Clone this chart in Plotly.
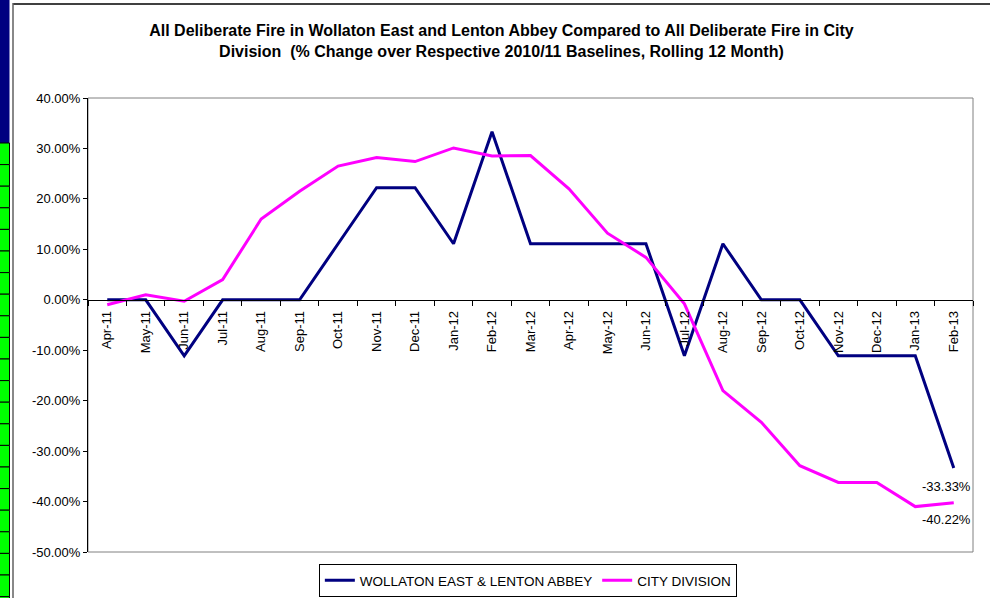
import plotly.graph_objects as go

months = ["Apr-11", "May-11", "Jun-11", "Jul-11", "Aug-11", "Sep-11", "Oct-11", "Nov-11",
          "Dec-11", "Jan-12", "Feb-12", "Mar-12", "Apr-12", "May-12", "Jun-12", "Jul-12",
          "Aug-12", "Sep-12", "Oct-12", "Nov-12", "Dec-12", "Jan-13", "Feb-13"]

wollaton = [0.0, 0.0, -11.11, 0.0, 0.0, 0.0, 11.11, 22.22, 22.22, 11.11, 33.33, 11.11,
            11.11, 11.11, 11.11, -11.11, 11.11, 0.0, 0.0, -11.11, -11.11, -11.11, -33.33]

city = [-1.0, 1.0, -0.3, 4.0, 16.0, 21.5, 26.5, 28.2, 27.4, 30.1, 28.5, 28.6,
        22.0, 13.2, 8.4, -0.8, -18.0, -24.3, -32.9, -36.2, -36.2, -41.0, -40.22]

ytickvals = [40, 30, 20, 10, 0, -10, -20, -30, -40, -50]
yticktext = ["40.00%", "30.00%", "20.00%", "10.00%", "0.00%", "-10.00%", "-20.00%",
             "-30.00%", "-40.00%", "-50.00%"]

FONT = "Liberation Sans, Arial, sans-serif"

fig = go.Figure()
fig.add_trace(go.Scatter(x=months, y=wollaton, mode="lines", name="WOLLATON EAST & LENTON ABBEY",
                         line=dict(color="#000080", width=3)))
fig.add_trace(go.Scatter(x=months, y=city, mode="lines", name="CITY DIVISION",
                         line=dict(color="#FF00FF", width=3)))

ymin, ymax = -50, 40
zero_pos = (0 - ymin) / (ymax - ymin)

shapes = []
shapes.append(dict(type="rect", xref="paper", yref="paper", x0=0, x1=1, y0=0, y1=1,
                   line=dict(color="#808080", width=1), layer="below"))
W, H = 885.0, 454.0
def px(xp):
    return (xp - 88) / W
def py(yp):
    return (552 - yp) / H
shapes.append(dict(type="line", xref="paper", yref="paper", x0=px(13), x1=px(1000), y0=py(4), y1=py(4),
                   line=dict(color="#404040", width=2)))
shapes.append(dict(type="line", xref="paper", yref="paper", x0=px(13), x1=px(13), y0=py(3), y1=py(605),
                   line=dict(color="#606060", width=1.5)))
shapes.append(dict(type="rect", xref="paper", yref="paper", x0=px(-1), x1=px(9.5), y0=py(-1), y1=py(143),
                   fillcolor="#000080", line=dict(width=0)))
ytop = 143.0
while ytop < 598:
    shapes.append(dict(type="rect", xref="paper", yref="paper", x0=px(-1), x1=px(9.5),
                       y0=py(ytop), y1=py(ytop + 21.6), fillcolor="#00FF00",
                       line=dict(color="black", width=1)))
    ytop += 21.6

annotations = [
    dict(x=months[-1], y=wollaton[-1], xref="x", yref="y", text="-33.33%", showarrow=False,
         yshift=-19, xshift=-7, font=dict(size=13, color="black", family=FONT)),
    dict(x=months[-1], y=city[-1], xref="x", yref="y", text="-40.22%", showarrow=False,
         yshift=-17, xshift=-7, font=dict(size=13, color="black", family=FONT)),
]

fig.update_layout(
    width=990, height=598,
    margin=dict(l=88, r=17, t=98, b=46, autoexpand=False),
    paper_bgcolor="white", plot_bgcolor="white",
    font=dict(family=FONT, size=13, color="black"),
    title=dict(text="<b>All Deliberate Fire in Wollaton East and Lenton Abbey Compared to All Deliberate Fire in City<br>Division  (% Change over Respective 2010/11 Baselines, Rolling 12 Month)</b>",
               x=0.5065, xanchor="center", y=0.94, yanchor="top",
               font=dict(size=16, family=FONT, color="black")),
    xaxis=dict(type="category", range=[-0.5, len(months) - 0.5], anchor="free", position=zero_pos,
               showline=True, linecolor="black", linewidth=1, ticks="outside", ticklen=5,
               tickcolor="black", tickson="boundaries", tickangle=-90, showgrid=False,
               ticklabelstandoff=5,
               zeroline=False, automargin=False, tickfont=dict(size=13, family=FONT)),
    yaxis=dict(range=[ymin, ymax], tickvals=ytickvals, ticktext=yticktext, showline=True,
               linecolor="black", linewidth=1, ticks="outside", ticklen=4, tickcolor="black",
               showgrid=False, zeroline=False, automargin=False, tickfont=dict(size=13, family=FONT)),
    legend=dict(orientation="h", x=0.497, xanchor="center", y=py(597), yanchor="bottom",
                bordercolor="black", borderwidth=1, bgcolor="white",
                font=dict(size=13.5, family=FONT), itemwidth=30, tracegroupgap=0),
    shapes=shapes,
    annotations=annotations,
)

fig.write_html("out.html", config={"displayModeBar": False},
               post_script="document.body.style.margin='0';document.body.style.padding='0';document.body.style.overflow='hidden';")
